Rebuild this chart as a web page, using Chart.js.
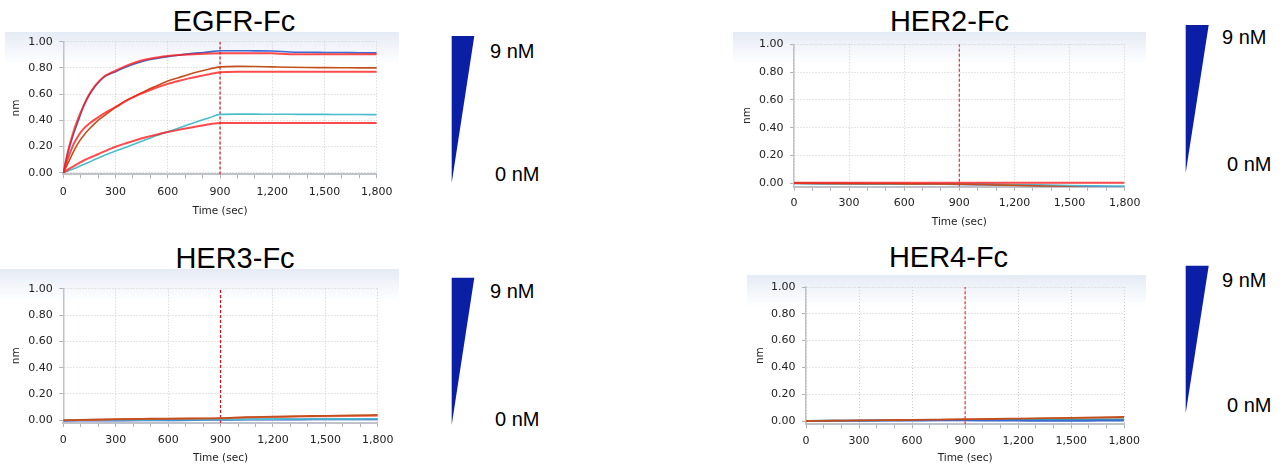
<!DOCTYPE html>
<html><head><meta charset="utf-8">
<script src="https://cdn.jsdelivr.net/npm/chart.js@4/dist/chart.umd.min.js"></script>
<style>
html,body{margin:0;padding:0;background:#fff}
body{width:1286px;height:466px;position:relative;overflow:hidden;font-family:'Liberation Sans',Arial,sans-serif}
.band{position:absolute;height:32px;background:linear-gradient(to bottom,#e5ebf5 0%,#f1f4fa 45%,rgba(255,255,255,0) 100%)}
.cv{position:absolute}
.ttl{position:absolute;font-size:29px;line-height:1;color:#000;white-space:nowrap;transform:translateX(-50%)}
.conc{position:absolute;font-size:20px;line-height:1;color:#000;white-space:nowrap}
svg{position:absolute;left:0;top:0}
</style>
</head><body>
<div class="band" style="left:5px;top:32px;width:394px"></div>
<div class="band" style="left:733px;top:32px;width:413px"></div>
<div class="band" style="left:0px;top:269px;width:399px"></div>
<div class="band" style="left:747px;top:275px;width:399px"></div>

<svg width="1286" height="466">
  <polygon points="451.7,36 474.3,36 451.7,183" fill="#0b1fa6"/>
  <polygon points="1185.7,25 1208.7,25 1185.7,172.7" fill="#0b1fa6"/>
  <polygon points="451.7,277.7 474.3,277.7 451.7,425" fill="#0b1fa6"/>
  <polygon points="1185.7,265.7 1208.7,265.7 1185.7,413.3" fill="#0b1fa6"/>
</svg>
<div class="conc" style="left:490px;top:40.9px">9 nM</div>
<div class="conc" style="left:495px;top:164.2px">0 nM</div>
<div class="conc" style="left:1222px;top:27.2px">9 nM</div>
<div class="conc" style="left:1227px;top:154.2px">0 nM</div>
<div class="conc" style="left:490px;top:280.5px">9 nM</div>
<div class="conc" style="left:495px;top:408.5px">0 nM</div>
<div class="conc" style="left:1222px;top:269.9px">9 nM</div>
<div class="conc" style="left:1227px;top:395.2px">0 nM</div>

<div class="ttl" style="left:234px;top:6.8px">EGFR-Fc</div>
<div class="ttl" style="left:949.5px;top:7.3px">HER2-Fc</div>
<div class="ttl" style="left:235px;top:244.2px">HER3-Fc</div>
<div class="ttl" style="left:948.5px;top:243.3px">HER4-Fc</div>

<script>
// ---------- data ----------
const xTickValues = [0,100,200,300,400,500,600,700,800,900,1000,1100,1200,1300,1400,1500,1600,1700,1800];
const yTickValues = [0,0.1,0.2,0.3,0.4,0.5,0.6,0.7,0.8,0.9,1.0];
const injectionEnd = 900;

const egfrTime = [0,30,60,90,120,150,180,210,240,270,300,360,420,480,540,600,660,720,780,840,900,1000,1100,1200,1300,1400,1500,1600,1700,1800];
const egfrBlue = [0,0.17,0.30,0.41,0.52,0.595,0.655,0.70,0.735,0.755,0.771,0.807,0.835,0.858,0.873,0.886,0.897,0.907,0.915,0.922,0.931,0.931,0.930,0.929,0.921,0.919,0.918,0.917,0.916,0.915];
const egfrBlueFit = [0,0.18,0.32,0.43,0.52,0.60,0.66,0.705,0.74,0.76,0.778,0.815,0.845,0.866,0.88,0.891,0.898,0.903,0.907,0.91,0.912,0.912,0.912,0.911,0.905,0.905,0.905,0.905,0.905,0.905];
const egfrBrown = [0,0.08,0.165,0.235,0.29,0.335,0.375,0.41,0.44,0.47,0.50,0.55,0.59,0.63,0.665,0.70,0.725,0.75,0.772,0.792,0.808,0.812,0.811,0.808,0.805,0.803,0.802,0.801,0.80,0.80];
const egfrBrownFit = [0,0.12,0.22,0.29,0.34,0.375,0.405,0.432,0.457,0.48,0.50,0.548,0.588,0.622,0.652,0.678,0.70,0.72,0.737,0.752,0.766,0.771,0.771,0.771,0.771,0.771,0.771,0.771,0.771,0.771];
const egfrCyan = [0,0.015,0.03,0.048,0.065,0.082,0.10,0.118,0.135,0.15,0.165,0.195,0.225,0.255,0.285,0.312,0.34,0.368,0.395,0.42,0.445,0.447,0.447,0.446,0.446,0.445,0.445,0.444,0.444,0.443];
const egfrCyanFit = [0,0.027,0.05,0.073,0.095,0.113,0.13,0.148,0.165,0.182,0.198,0.225,0.25,0.272,0.292,0.31,0.327,0.342,0.356,0.369,0.38,0.38,0.38,0.38,0.38,0.38,0.38,0.38,0.38,0.38];

const herTime = [0,150,300,450,600,750,900,1050,1200,1350,1500,1650,1800];
const her2Blue = [0,-0.001,-0.002,-0.003,-0.004,-0.005,-0.006,-0.009,-0.012,-0.016,-0.02,-0.025,-0.028];
const her2Brown = [0,-0.001,-0.002,-0.003,-0.004,-0.005,-0.007,-0.01,-0.015,-0.02,-0.026,-0.032,-0.035];
const her2Cyan = [0,-0.002,-0.003,-0.004,-0.005,-0.006,-0.006,-0.008,-0.01,-0.013,-0.016,-0.018,-0.02];
const her2Fit = [0.004,0.004,0.004,0.004,0.004,0.004,0.004,0.004,0.004,0.004,0.004,0.004,0.004];

const her3Brown = [0,0.004,0.009,0.011,0.013,0.014,0.016,0.024,0.027,0.031,0.034,0.038,0.041];
const her3Fit = [0,0.003,0.006,0.009,0.011,0.013,0.015,0.022,0.025,0.028,0.03,0.032,0.034];
const her3Blue = [-0.003,-0.002,-0.001,0,0.001,0.002,0.004,0.006,0.007,0.007,0.008,0.008,0.008];
const her3Cyan = [0,0.001,0.002,0.003,0.004,0.005,0.006,0.008,0.009,0.01,0.011,0.011,0.012];

const her4Brown = [0,0.002,0.004,0.006,0.009,0.011,0.013,0.015,0.018,0.021,0.024,0.027,0.03];
const her4Fit = [0,0.002,0.004,0.006,0.008,0.01,0.012,0.014,0.016,0.018,0.02,0.022,0.024];
const her4Cyan = [0.002,0.003,0.004,0.005,0.006,0.007,0.008,0.009,0.01,0.011,0.011,0.012,0.012];
const her4Blue = [0,0.001,0.002,0.003,0.004,0.005,0.005,0.004,0.003,0.002,0.002,0.003,0.004];

// ---------- styles ----------
const C_BLUE = '#3a6ad4', C_BROWN = '#c3501c', C_CYAN = '#4bbccc', C_FIT = 'rgba(255,30,30,0.8)';

function pts(t, v){ return t.map((x,i)=>({x:x, y:v[i]})); }
function fmtX(v){ return String(v).replace(/\B(?=(\d{3})+(?!\d))/g, ','); }

function panel(p){
  const cv = document.createElement('canvas');
  cv.className = 'cv';
  cv.width = p.W; cv.height = p.H;
  cv.style.left = p.cl + 'px'; cv.style.top = p.ct + 'px';
  cv.style.width = p.W + 'px'; cv.style.height = p.H + 'px';
  document.body.appendChild(cv);

  const B = p.y0 + (-p.ymin) * (p.y0 - p.y1);
  const yW = p.L - p.cl;
  const xH = p.ct + p.H - B;
  const padRight = p.cl + p.W - p.R;
  const padTop = p.y1 - p.ct;

  const datasets = [];
  p.series.forEach(s => datasets.push({
    data: pts(p.time, s.v), borderColor: s.c, borderWidth: s.w, pointRadius: 0,
    fill: false, cubicInterpolationMode: 'monotone', tension: 0
  }));
  datasets.push({
    data: [{x:injectionEnd, y:p.ymin}, {x:injectionEnd, y:1}],
    borderColor: p.vc, borderWidth: 1.2, borderDash: [3,2], pointRadius: 0, fill: false
  });

  const tickFont = {family:'DejaVu Sans', size:11};
  new Chart(cv, {
    type: 'line',
    data: { datasets },
    options: {
      responsive: false, animation: false, devicePixelRatio: 1,
      layout: { padding: { left: 0, top: padTop, right: padRight, bottom: 0 } },
      plugins: { legend: {display:false}, tooltip: {enabled:false}, title:{display:false} },
      scales: {
        x: {
          type: 'linear', min: 0, max: 1800,
          afterBuildTicks: a => { a.ticks = xTickValues.map(v => ({value:v})); },
          afterFit: s => { s.height = xH; },
          ticks: { autoSkip:false, maxRotation:0, padding: p.tickCY - B - 4 - 6.6, font: tickFont, color:'#222',
                   callback: v => (v % 300 === 0 ? fmtX(v) : '') },
          grid: { color: c => (c.tick && c.tick.value % 300 === 0) ? '#cdcdcd' : 'rgba(0,0,0,0)',
                  tickColor: '#aeb2b8', tickLength: 4, lineWidth: 1 },
          border: { color: '#bfc3c9', width: 2, dash: [1,2] },
          title: { display:true, text:'Time (sec)', font: {family:'DejaVu Sans', size:10.5}, color:'#222',
                   padding: { top: 0, bottom: p.ct + p.H - p.timeCY - 6.3 } }
        },
        y: {
          min: p.ymin, max: 1,
          afterBuildTicks: a => { a.ticks = yTickValues.map(v => ({value:v})); },
          afterFit: s => { s.width = yW; },
          ticks: { padding: 6.6, font: tickFont, color:'#222',
                   callback: v => (Math.round(v*10) % 2 === 0 ? v.toFixed(2) : '') },
          grid: { color: c => (c.tick && Math.round(c.tick.value*10) % 2 === 0) ? '#cdcdcd' : 'rgba(0,0,0,0)',
                  tickColor: '#aeb2b8', tickLength: 4, lineWidth: 1 },
          border: { color: '#bfc3c9', width: 1.5, dash: [1,2] },
          title: { display:true, text:'nm', font:{family:'DejaVu Sans', size:10.5}, color:'#222',
                   padding: { top: p.nmCX - p.cl - 6.3, bottom: 0 } }
        }
      }
    }
  });
}

panel({ cl:0, ct:0, W:400, H:222, L:63.3, R:379.5, y1:41.7, y0:172.7, ymin:-0.013,
  tickCY:192.5, timeCY:211.5, nmCX:16, vc:'#c81818', time: egfrTime,
  series: [
    {v:egfrBlueFit, c:C_FIT, w:2}, {v:egfrBrownFit, c:C_FIT, w:2}, {v:egfrCyanFit, c:C_FIT, w:2},
    {v:egfrBlue, c:C_BLUE, w:1.6}, {v:egfrBrown, c:C_BROWN, w:1.6}, {v:egfrCyan, c:C_CYAN, w:1.6}
  ]});

panel({ cl:720, ct:0, W:426, H:232, L:794, R:1125.7, y1:44.3, y0:183.3, ymin:-0.025,
  tickCY:203, timeCY:222, nmCX:747, vc:'#e83030', time: herTime,
  series: [
    {v:her2Fit, c:C_FIT, w:2},
    {v:her2Brown, c:C_BROWN, w:1.6}, {v:her2Cyan, c:C_CYAN, w:1.6}, {v:her2Blue, c:C_BLUE, w:2}
  ]});

panel({ cl:0, ct:240, W:400, H:226, L:63.3, R:378.7, y1:288.7, y0:420.3, ymin:-0.02,
  tickCY:440, timeCY:458, nmCX:16.5, vc:'#c81818', time: herTime,
  series: [
    {v:her3Brown, c:C_BROWN, w:1.8}, {v:her3Fit, c:'rgba(255,60,40,0.7)', w:1.6},
    {v:her3Cyan, c:C_CYAN, w:1.6}, {v:her3Blue, c:C_BLUE, w:2}
  ]});

panel({ cl:720, ct:240, W:426, H:226, L:806, R:1126, y1:287, y0:421, ymin:-0.025,
  tickCY:441, timeCY:458.3, nmCX:760, vc:'#e83030', time: herTime,
  series: [
    {v:her4Brown, c:C_BROWN, w:1.8}, {v:her4Blue, c:C_BLUE, w:2},
    {v:her4Cyan, c:'#3aa89a', w:1.6}, {v:her4Fit, c:'rgba(255,60,40,0.7)', w:1.4}
  ]});
</script>
</body></html>
